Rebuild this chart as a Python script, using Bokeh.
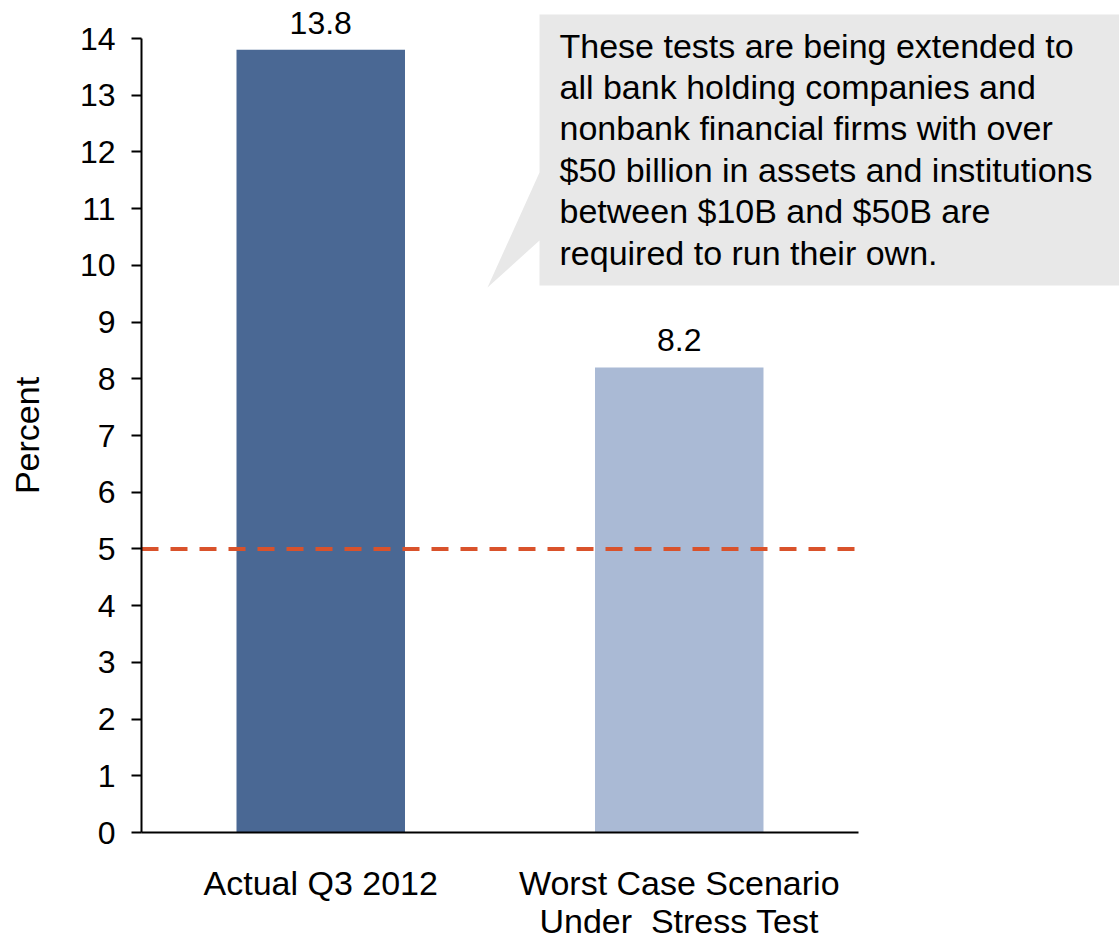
from math import pi

from bokeh.plotting import figure
from bokeh.models import Range1d, FixedTicker, LinearAxis
from bokeh.core.properties import value
from bokeh.embed import file_html
from bokeh.resources import INLINE

# Tier 1 capital ratio data
categories = ["Actual Q3 2012", "Worst Case Scenario\nUnder\u00a0 Stress Test"]
ratios = [13.8, 8.2]
bar_colors = ["#4A6894", "#AABAD5"]
threshold = 5.0
y_ticks = list(range(0, 15))
y_title = "Percent"

note_lines = [
    "These tests are being extended to",
    "all bank holding companies and",
    "nonbank financial firms with over",
    "$50 billion in assets and institutions",
    "between $10B and $50B are",
    "required to run their own.",
]

FONT = "Liberation Sans"
W, H = 1119, 942
AXIS_LEFT_PX = 141               # pixel column of the value axis
AXIS_TOP_PX = 38                 # pixel row of the 14% tick
AXIS_ZERO_PX = 832               # pixel row of the 0% baseline
AXIS_RIGHT_PX = 858              # right end of the category axis

y_px = (AXIS_ZERO_PX - AXIS_TOP_PX) / 14.0     # pixels per percent
x_px = (AXIS_RIGHT_PX - AXIS_LEFT_PX) / 2.0    # pixels per category slot


def px_to_x(px):
    return (px - AXIS_LEFT_PX) / x_px


def px_to_y(py):
    return (AXIS_ZERO_PX - py) / y_px


p = figure(width=W, height=H, output_backend="svg", toolbar_location=None,
           x_range=Range1d(px_to_x(0), px_to_x(W)),
           y_range=Range1d(px_to_y(H), px_to_y(0)),
           x_axis_location=None, y_axis_location=None,
           min_border_left=0, min_border_right=0, min_border_top=0,
           min_border_bottom=0)
p.outline_line_color = None
p.xgrid.visible = False
p.ygrid.visible = False
p.background_fill_color = "white"
p.border_fill_color = "white"

xs = [i + 0.5 for i in range(len(categories))]

# bars
p.vbar(x=xs, top=ratios, width=0.47, bottom=0, color=bar_colors, line_color=None)

# value labels above bars
p.text(x=xs, y=ratios, text=[f"{v:.1f}" for v in ratios], text_align="center",
       text_baseline="middle", y_offset=-27, text_font=value(FONT),
       text_font_size="32px", text_color="black")

# 5% minimum line
p.line(x=[0, len(categories)], y=[threshold, threshold], line_color="#D9522B",
       line_width=4, line_dash="17 12")

# callout box with pointer
box_l, box_r, box_t, box_b = 539, 1125, 14, 285
p.patch(x=[px_to_x(v) for v in [box_l, box_r, box_r, box_l, box_l, 487, box_l]],
        y=[px_to_y(v) for v in [box_t, box_t, box_b, box_b, 240, 287, 172]],
        fill_color="#E8E8E8", line_color=None)
first_mid, spacing = 45, 41.4
p.text(x=[px_to_x(559)] * len(note_lines),
       y=[px_to_y(first_mid + i * spacing) for i in range(len(note_lines))],
       text=note_lines, text_align="left", text_baseline="middle",
       text_font=value(FONT), text_font_size="34px", text_color="black")

# value axis on the left edge of the category area
ya = LinearAxis(fixed_location=0, bounds=(0, 14), ticker=FixedTicker(ticks=y_ticks))
ya.minor_tick_line_color = None
ya.major_tick_in = 0
ya.major_tick_out = 10
ya.major_tick_line_width = 2
ya.axis_line_width = 2
ya.major_label_standoff = 16
ya.major_label_text_font = FONT
ya.major_label_text_font_size = "32px"
ya.major_label_text_color = "black"
p.add_layout(ya, "left")

# axis title
p.text(x=[px_to_x(26)], y=[7], text=[y_title], angle=pi / 2,
       text_align="center", text_baseline="middle",
       text_font=value(FONT), text_font_size="34px", text_color="black")

# category axis sitting on the 0% line
xa = LinearAxis(fixed_location=0, bounds=(0, len(categories)),
                ticker=FixedTicker(ticks=xs))
xa.major_label_overrides = {x: c for x, c in zip(xs, categories)}
xa.minor_tick_line_color = None
xa.major_tick_line_color = None
xa.axis_line_width = 2
xa.major_label_standoff = 25
xa.major_label_text_font = FONT
xa.major_label_text_font_size = "34px"
xa.major_label_text_line_height = 1.0
xa.major_label_text_color = "black"
p.add_layout(xa, "below")

open("out.html", "w").write(file_html(p, INLINE))
